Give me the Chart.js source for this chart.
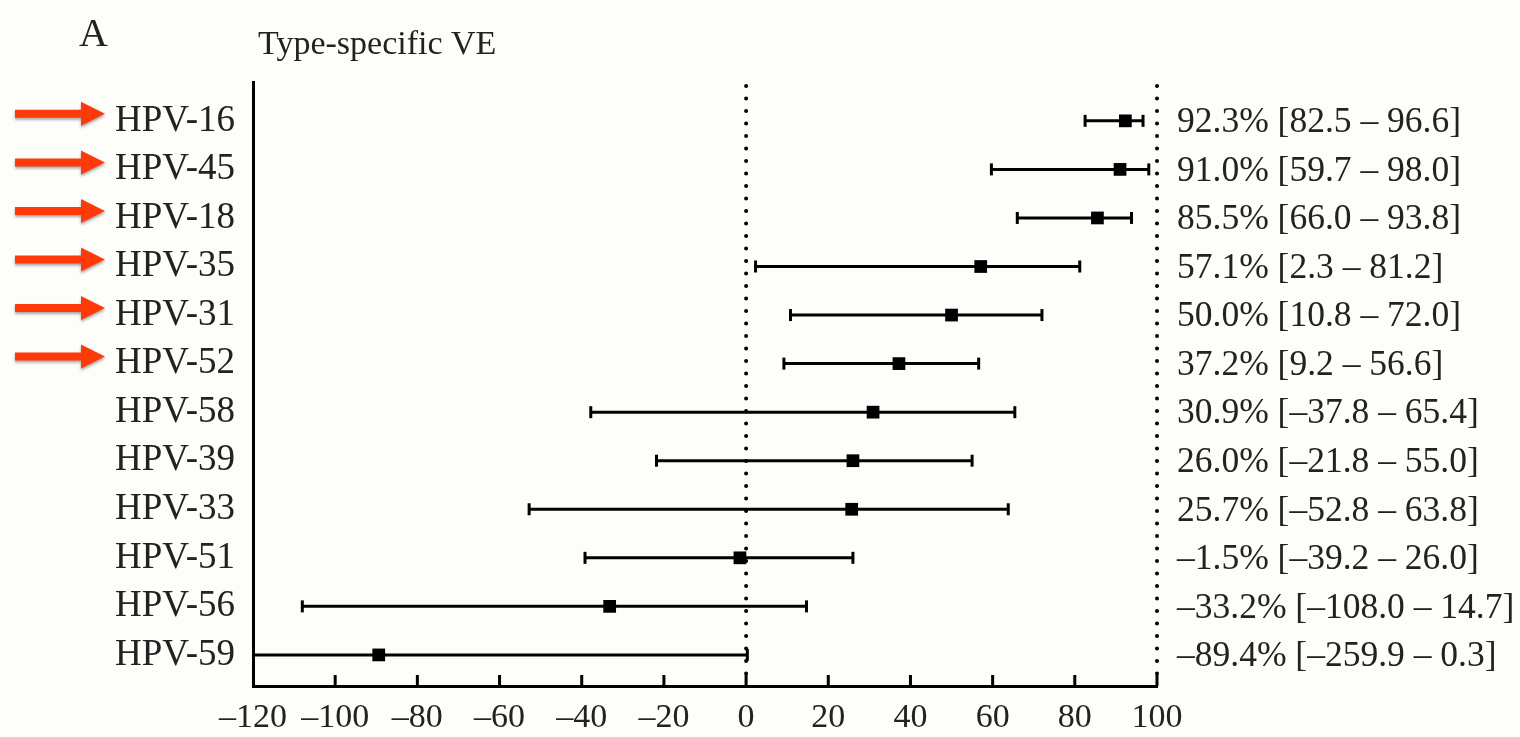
<!DOCTYPE html>
<html>
<head>
<meta charset="utf-8">
<script src="https://cdn.jsdelivr.net/npm/chart.js@4"></script>
<style>
  body { margin: 0; background: #fdfdfa; }
  canvas { display: block; }
</style>
</head>
<body>
<canvas id="forest" width="1520" height="737"></canvas>
<script>
// data
var types = ["HPV-16", "HPV-45", "HPV-18", "HPV-35", "HPV-31", "HPV-52",
             "HPV-58", "HPV-39", "HPV-33", "HPV-51", "HPV-56", "HPV-59"];
var ve    = [92.3, 91.0, 85.5, 57.1, 50.0, 37.2, 30.9, 26.0, 25.7, -1.5, -33.2, -89.4];
var lower = [82.5, 59.7, 66.0, 2.3, 10.8, 9.2, -37.8, -21.8, -52.8, -39.2, -108.0, -259.9];
var upper = [96.6, 98.0, 93.8, 81.2, 72.0, 56.6, 65.4, 55.0, 63.8, 26.0, 14.7, 0.3];
var marked = [true, true, true, true, true, true, false, false, false, false, false, false];
var xTicks = [-120, -100, -80, -60, -40, -20, 0, 20, 40, 60, 80, 100];
var refLines = [0, 100];

var FONT = "'Liberation Serif', 'DejaVu Serif', serif";
var INK = "#222";

function dash(n) { return String(n).replace("-", "\u2013"); }
function fmt(v) { return dash(v.toFixed(1)); }

var datasets = [];
types.forEach(function (t, i) {
    datasets.push({
        data: [{x: lower[i], y: i + 1}, {x: upper[i], y: i + 1}],
        showLine: true,
        borderColor: "#000",
        borderWidth: 3,
        pointStyle: "line",
        rotation: 90,
        pointRadius: 6,
        pointBorderWidth: 3,
        pointBorderColor: "#000"
    });
});
datasets.push({
    data: ve.map(function (v, i) { return {x: v, y: i + 1}; }),
    pointStyle: "rect",
    pointRadius: 9,
    backgroundColor: "#000",
    borderColor: "#000",
    borderWidth: 0
});

var extras = {
    id: "extras",
    beforeDatasetsDraw: function (chart) {
        var c = chart.ctx, a = chart.chartArea, xs = chart.scales.x;
        c.save();
        c.strokeStyle = "#000";
        c.lineWidth = 4;
        c.lineCap = "round";
        c.setLineDash([0, 12.5]);
        refLines.forEach(function (v) {
            var px = xs.getPixelForValue(v);
            c.beginPath();
            c.moveTo(px, a.top + 4);
            c.lineTo(px, a.bottom - 12);
            c.stroke();
        });
        c.restore();
    },
    afterDraw: function (chart) {
        var c = chart.ctx, a = chart.chartArea, xs = chart.scales.x, ys = chart.scales.y;
        c.save();
        // inner ticks on x axis
        c.strokeStyle = "#000";
        c.lineWidth = 3;
        xTicks.forEach(function (v) {
            if (v === xTicks[0]) return;
            var px = xs.getPixelForValue(v);
            c.beginPath();
            c.moveTo(px, a.bottom);
            c.lineTo(px, a.bottom - 11);
            c.stroke();
        });
        // estimate labels on the right
        c.fillStyle = INK;
        c.font = "35.5px " + FONT;
        c.textAlign = "left";
        c.textBaseline = "middle";
        types.forEach(function (t, i) {
            var py = ys.getPixelForValue(i + 1);
            c.fillText(fmt(ve[i]) + "% [" + fmt(lower[i]) + " \u2013 " + fmt(upper[i]) + "]", a.right + 20, py + 2);
        });
        // titles
        c.textBaseline = "alphabetic";
        c.font = "40px " + FONT;
        c.fillText("A", 79, 46);
        c.font = "34px " + FONT;
        c.fillText("Type-specific VE", 258, 54);
        // red arrows
        c.fillStyle = "#ff3a0a";
        c.shadowColor = "rgba(0,0,0,0.35)";
        c.shadowBlur = 3;
        c.shadowOffsetY = 2;
        types.forEach(function (t, i) {
            if (!marked[i]) return;
            var py = ys.getPixelForValue(i + 1) - 7;
            c.beginPath();
            c.moveTo(15, py - 4);
            c.lineTo(81, py - 4);
            c.lineTo(81, py - 12);
            c.lineTo(105, py);
            c.lineTo(81, py + 12);
            c.lineTo(81, py + 4);
            c.lineTo(15, py + 4);
            c.closePath();
            c.fill();
        });
        c.restore();
    }
};

var chart = new Chart(document.getElementById("forest"), {
    type: "scatter",
    data: {datasets: datasets},
    options: {
        responsive: false,
        animation: false,
        layout: {padding: {top: 82, right: 363, left: 0, bottom: 0}},
        plugins: {legend: {display: false}, tooltip: {enabled: false}},
        scales: {
            x: {
                type: "linear",
                min: -120,
                max: 100,
                afterBuildTicks: function (scale) {
                    scale.ticks = xTicks.map(function (v) { return {value: v}; });
                },
                afterFit: function (scale) { scale.height = 51; },
                grid: {display: false, drawTicks: false},
                border: {display: true, color: "#000", width: 3},
                ticks: {
                    padding: 12,
                    color: INK,
                    font: {family: FONT, size: 34},
                    callback: function (v) { return dash(v); }
                }
            },
            y: {
                type: "linear",
                reverse: true,
                min: 0.2,
                max: 12.64,
                afterBuildTicks: function (scale) {
                    scale.ticks = types.map(function (t, i) { return {value: i + 1}; });
                },
                afterFit: function (scale) { scale.width = 253; },
                grid: {display: false, drawTicks: false},
                border: {display: true, color: "#000", width: 3},
                ticks: {
                    padding: 18,
                    color: INK,
                    font: {family: FONT, size: 37},
                    callback: function (v) { return types[Math.round(v) - 1]; }
                }
            }
        }
    },
    plugins: [extras]
});
</script>
</body>
</html>
